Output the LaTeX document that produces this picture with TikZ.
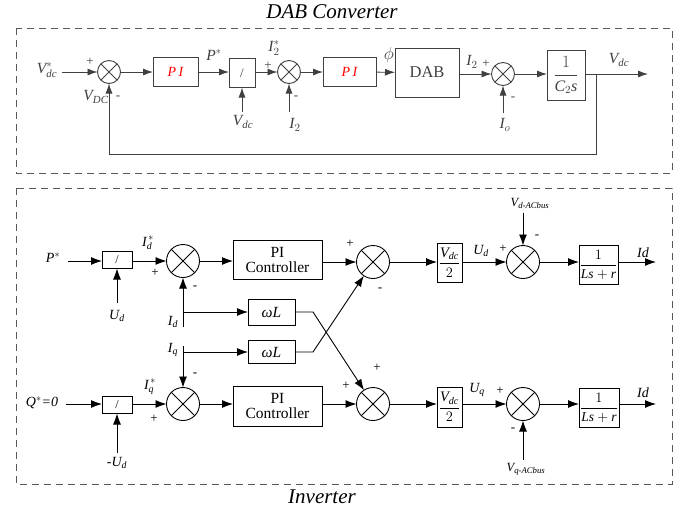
\documentclass[tikz,border=0pt]{standalone}
\usepackage{amsmath}
\usepackage{fontspec}
\setmainfont{Liberation Serif}
\usetikzlibrary{arrows.meta}
\newcommand\mi[1]{\textit{#1}}
\begin{document}
\begin{tikzpicture}[x=1pt,y=-1pt,
  >={Latex[length=11pt,width=8pt]},
  every node/.style={inner sep=0pt,outer sep=0pt},
  wire/.style={line width=0.9pt},
  blk/.style={draw,line width=0.9pt,fill=white},
  sumsmall/.style={draw,circle,line width=0.9pt,minimum size=23pt,
    path picture={\draw[line width=0.9pt]
      (path picture bounding box.north west)--(path picture bounding box.south east)
      (path picture bounding box.north east)--(path picture bounding box.south west);}},
  sumbig/.style={sumsmall,minimum size=33pt},
  lbl/.style={font=\fontsize{15.5}{17}\selectfont},
  slbl/.style={font=\fontsize{14}{16}\selectfont},
  sign/.style={font=\fontsize{13}{14}\selectfont},
  blkfont/.style={font=\fontsize{15.5}{16}\selectfont},
  frame/.style={draw=black!65,line width=1pt,dash pattern=on 7pt off 5pt},
  title/.style={font=\fontsize{21}{24}\selectfont\itshape},
]
\useasboundingbox (0,0) rectangle (693,512);

% ---------- frames and titles ----------
\draw[frame] (16,28) rectangle (672,173);
\draw[frame] (16,188) rectangle (672,484);
\node[title,anchor=base] (ttl1) at (332,18) {DAB Converter};
\node[title,anchor=base] (ttl2) at (322,503) {Inverter};

% ---------- DAB converter loop ----------
\begin{scope}[color=black!75,>={Latex[length=10pt,width=7pt]}]
  \coordinate (vin) at (62,72);
  \node[sumsmall] (s1) at (109,72) {};
  \node[blk,minimum width=45pt,minimum height=29pt] (pi1) at (175.5,72)
    {\color{red}\fontsize{14}{15}\selectfont\itshape P\,I};
  \node[blk,minimum width=26pt,minimum height=29pt,font=\fontsize{13}{14}\selectfont] (dv1) at (242,73) {/};
  \node[sumsmall] (s2) at (289,72) {};
  \node[blk,minimum width=53pt,minimum height=29pt] (pi2) at (349.5,72)
    {\color{red}\fontsize{14}{15}\selectfont\itshape P\,I};
  \node[blk,minimum width=64pt,minimum height=49pt,font=\fontsize{16.5}{18}\selectfont] (dab) at (427,72.5) {DAB};
  \node[sumsmall] (s3) at (503,74) {};
  \node[blk,minimum width=38pt,minimum height=50pt,font=\fontsize{16}{17}\selectfont] (cap) at (566,75)
    {$\dfrac{1}{\mi{C}_{2}\mi{s}}$};
  \coordinate (vout) at (648,74);
  \coordinate (br) at (596,74);
  \coordinate (fb) at (596,154);
  \coordinate (vdcin) at (242,112);
  \coordinate (i2in) at (289,112);
  \coordinate (ioin) at (503,113);

  \draw[wire,->] (vin) -- (s1);
  \draw[wire,->] (s1) -- (pi1);
  \draw[wire,->] (pi1) -- (dv1.west |- pi1);
  \draw[wire,->] (dv1.east |- s2) -- (s2);
  \draw[wire,->] (s2) -- (pi2);
  \draw[wire,->] (pi2) -- (dab);
  \draw[wire,->] (dab.east |- s3) -- (s3);
  \draw[wire,->] (s3) -- (cap.west |- s3);
  \draw[wire,->] (cap.east |- s3) -- (vout);
  \draw[wire,->] (vdcin) -- (dv1);
  \draw[wire,->] (i2in) -- (s2);
  \draw[wire,->] (ioin) -- (s3);
  \draw[wire,->] (br) -- (fb) -| (s1.south);

  \node[lbl] (lvs) at (47,70) {$\mi{V}^{*}_{\mi{dc}}$};
  \node[sign] (p1) at (90,62) {+};
  \node[lbl] (lvdc) at (96,97) {$\mi{V}_{\mi{DC}}$};
  \node[sign] (m1) at (118,98) {-};
  \node[lbl] (lps) at (214,55) {$\mi{P}^{*}$};
  \node[lbl] (lvd2) at (243,122) {$\mi{V}_{\mi{dc}}$};
  \node[sign] (p2) at (268,66) {+};
  \node[lbl] (li2s) at (274,48) {$\mi{I}^{*}_{2}$};
  \node[lbl] (li2) at (295,125) {$\mi{I}_{2}$};
  \node[sign] (m2) at (296,98) {-};
  \node[font=\fontsize{19}{20}\selectfont] (lphi) at (389,55) {$\phi$};
  \node[lbl] (li2b) at (472,62) {$\mi{I}_{2}$};
  \node[sign] (p3) at (486,64) {+};
  \node[sign] (m3) at (513,99) {-};
  \node[lbl] (lio) at (505,125) {$\mi{I}_{o}$};
  \node[lbl] (lvo) at (619,60) {$\mi{V}_{\mi{dc}}$};
\end{scope}

% ---------- inverter, d axis ----------
\coordinate (pin) at (68,261);
\node[blk,minimum width=30pt,minimum height=17pt,font=\fontsize{12}{13}\selectfont] (da) at (117,260) {/};
\coordinate (udin) at (117,303);
\node[sumbig] (sa) at (183,261) {};
\node[blk,minimum width=89pt,minimum height=39pt,blkfont,align=center] (pc1) at (277.5,260)
  {PI\\[-1pt]Controller};
\node[sumbig] (sb) at (373,262) {};
\node[blk,minimum width=25pt,minimum height=39pt,font=\fontsize{14.5}{15}\selectfont] (hv1) at (449.5,262.5)
  {$\dfrac{\mi{V}_{\mi{dc}}}{2}$};
\node[sumbig] (sc) at (523,262) {};
\coordinate (vdin) at (523,213);
\node[blk,minimum width=39pt,minimum height=39pt,font=\fontsize{13.5}{14}\selectfont] (ls1) at (598.5,265)
  {$\dfrac{1}{\mi{Ls}+\mi{r}}$};
\coordinate (idout) at (656,262);

% ---------- cross coupling ----------
\coordinate (idin) at (183,327);
\coordinate (idbr) at (183,312);
\node[blk,minimum width=47pt,minimum height=26pt,blkfont] (wl1) at (271.5,312) {\mi{ωL}};
\node[blk,minimum width=47pt,minimum height=23pt,blkfont] (wl2) at (271.5,352) {\mi{ωL}};
\coordinate (iqin) at (183,346);
\coordinate (iqbr) at (183,352);
\coordinate (k1) at (313,312);
\coordinate (k2) at (313,352);

% ---------- inverter, q axis ----------
\coordinate (qin) at (66,404);
\node[blk,minimum width=30pt,minimum height=17pt,font=\fontsize{12}{13}\selectfont] (db) at (117,405) {/};
\coordinate (muin) at (117,453);
\node[sumbig] (sd) at (183,404) {};
\node[blk,minimum width=89pt,minimum height=40pt,blkfont,align=center] (pc2) at (277.5,406)
  {PI\\[-1pt]Controller};
\node[sumbig] (se) at (373,404) {};
\node[blk,minimum width=25pt,minimum height=40pt,font=\fontsize{14.5}{15}\selectfont] (hv2) at (449.5,407)
  {$\dfrac{\mi{V}_{\mi{dc}}}{2}$};
\node[sumbig] (sf) at (523,404) {};
\coordinate (vqin) at (523,460);
\node[blk,minimum width=40pt,minimum height=39pt,font=\fontsize{13.5}{14}\selectfont] (ls2) at (599,408)
  {$\dfrac{1}{\mi{Ls}+\mi{r}}$};
\coordinate (iqout) at (656,404);

% ---------- inverter wiring ----------
\draw[wire,->] (pin) -- (da.west |- pin);
\draw[wire,->] (udin) -- (da);
\draw[wire,->] (da.east |- sa) -- (sa);
\draw[wire,->] (sa) -- (pc1.west |- sa);
\draw[wire,->] (pc1.east |- sb) -- (sb);
\draw[wire,->] (sb) -- (hv1.west |- sb);
\draw[wire,->] (hv1.east |- sc) -- (sc);
\draw[wire,->] (vdin) -- (sc);
\draw[wire,->] (sc) -- (ls1.west |- sc);
\draw[wire,->] (ls1.east |- sc) -- (idout);

\draw[wire,->] (idin) -- (sa);
\draw[wire,->] (idbr) -- (wl1);
\draw[wire,->] (iqin) -- (sd);
\draw[wire,->] (iqbr) -- (wl2);
\draw[wire,->] (wl1) -- (k1) -- (se);
\draw[wire,->] (wl2) -- (k2) -- (sb);

\draw[wire,->] (qin) -- (db.west |- qin);
\draw[wire,->] (muin) -- (db);
\draw[wire,->] (db.east |- sd) -- (sd);
\draw[wire,->] (sd) -- (pc2.west |- sd);
\draw[wire,->] (pc2.east |- se) -- (se);
\draw[wire,->] (se) -- (hv2.west |- se);
\draw[wire,->] (hv2.east |- sf) -- (sf);
\draw[wire,->] (vqin) -- (sf);
\draw[wire,->] (sf) -- (ls2.west |- sf);
\draw[wire,->] (ls2.east |- sf) -- (iqout);

% ---------- inverter labels ----------
\node[slbl] (lp) at (53,258) {$\mi{P}^{*}$};
\node[slbl] (lud) at (117,316) {$\mi{U}_{\mi{d}}$};
\node[slbl] (lids) at (148,243) {$\mi{I}_{\mi{d}}^{\,*}$};
\node[sign] (pa) at (155,273) {+};
\node[sign] (ma) at (195,288) {-};
\node[sign] (pb) at (350,244) {+};
\node[sign] (mb) at (380,290) {-};
\node[slbl] (lud2) at (481,251) {$\mi{U}_{\mi{d}}$};
\node[sign] (pc) at (503,249) {+};
\node[font=\fontsize{12.5}{13}\selectfont] (lvdac) at (530,203) {$\mi{V}_{\mi{d-ACbus}}$};
\node[sign] (mc) at (537,237) {-};
\node[slbl] (lid1) at (643,253) {\mi{Id}};
\node[slbl] (lid) at (173,322) {$\mi{I}_{\mi{d}}$};
\node[slbl] (liq) at (173,350) {$\mi{I}_{\mi{q}}$};

\node[slbl] (lq) at (42,403) {$\mi{Q}^{*}$\mi{=0}};
\node[slbl] (lmud) at (117,463) {\mi{-}$\mi{U}_{\mi{d}}$};
\node[slbl] (liqs) at (150,387) {$\mi{I}_{\mi{q}}^{\,*}$};
\node[sign] (pd) at (154,419) {+};
\node[sign] (md) at (195,375) {-};
\node[sign] (pe1) at (346,386) {+};
\node[sign] (pe2) at (377,368) {+};
\node[slbl] (luq) at (477,390) {$\mi{U}_{\mi{q}}$};
\node[sign] (pf) at (500,391) {+};
\node[sign] (mf) at (513,430) {-};
\node[font=\fontsize{12.5}{13}\selectfont] (lvqac) at (526,469) {$\mi{V}_{\mi{q-ACbus}}$};
\node[slbl] (lid2) at (643,393) {\mi{Id}};
\end{tikzpicture}
\end{document}
